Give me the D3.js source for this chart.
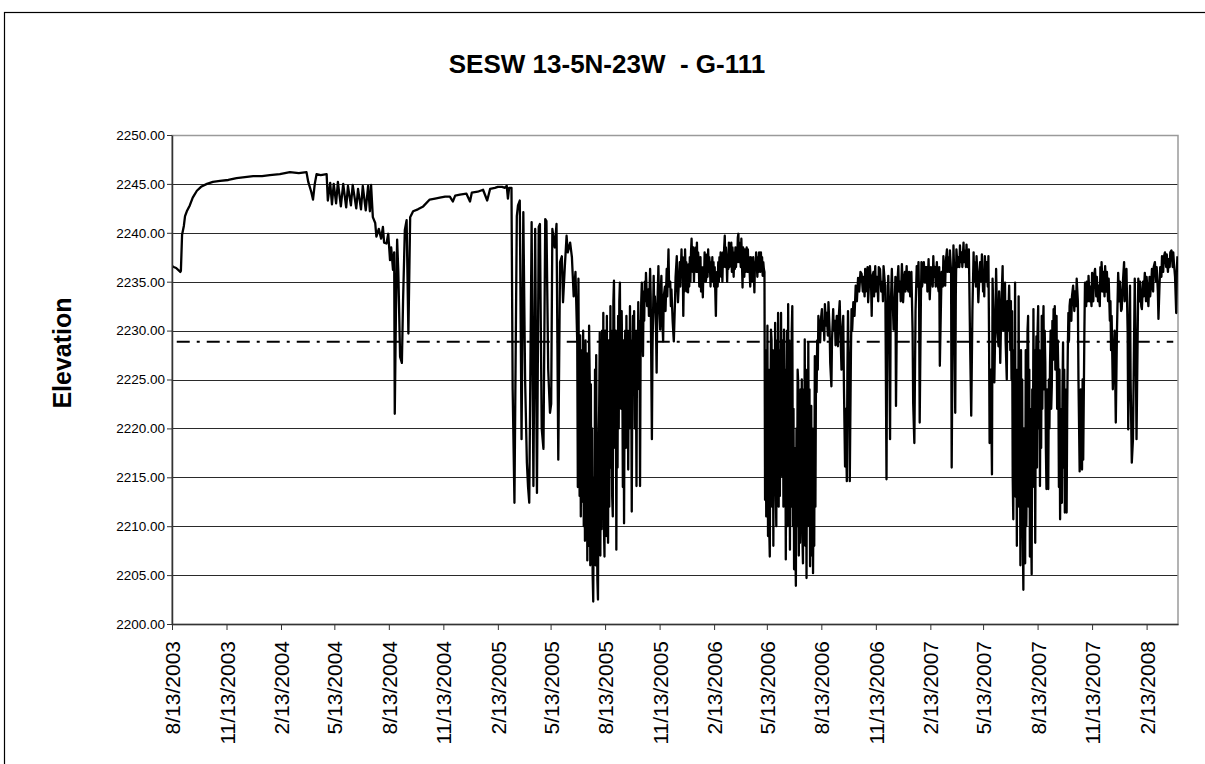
<!DOCTYPE html>
<html>
<head>
<meta charset="utf-8">
<script src="https://cdn.jsdelivr.net/npm/d3@7"></script>
<style>
body{margin:0;background:#fff;}
text{font-family:"Liberation Sans",Arial,sans-serif;fill:#000;}
</style>
</head>
<body>
<div id="main_div"></div>
<script>
let chartTitle="SESW 13-5N-23W  - G-111";
let yTitle="Elevation";
let startDate="8/13/2003";
let spanDays=1698;
let xTickLabels=["8/13/2003","11/13/2003","2/13/2004","5/13/2004","8/13/2004","11/13/2004","2/13/2005","5/13/2005","8/13/2005","11/13/2005","2/13/2006","5/13/2006","8/13/2006","11/13/2006","2/13/2007","5/13/2007","8/13/2007","11/13/2007","2/13/2008"];
let yTickValues=[2200,2205,2210,2215,2220,2225,2230,2235,2240,2245,2250];
let refLevel=2228.85;

// sparse readings: [days since 8/13/2003, elevation]
let readings2003_04=[
[0,2236.6],[3,2236.5],[7,2236.4],[14,2236.0],[15,2236.1],[17,2239.8],[20,2240.7],[22,2241.7],[25,2242.2],[30,2242.8],
[35,2243.6],[42,2244.3],[49,2244.7],[59,2245.0],[69,2245.2],[81,2245.3],[95,2245.4],[109,2245.6],[123,2245.7],[137,2245.8],
[152,2245.8],[165,2245.9],[182,2246.0],[199,2246.2],[214,2246.1],[227,2246.2],[230,2245.2],[235,2244.2],[238,2243.4],[241,2245.0],
[244,2246.0],[251,2245.9],[261,2246.0],[263,2243.3],[267,2245.1],[270,2242.9],[273,2245.0],[277,2243.0],[280,2245.2],[285,2242.7],
[289,2245.0],[294,2242.6],[297,2244.8],[302,2242.8],[305,2244.9],[311,2242.5],[314,2244.5],[319,2242.4],[322,2244.8],[327,2242.3],
[331,2244.8],[334,2242.2],[336,2244.9],[339,2241.6],[343,2241.0],[345,2239.6],[349,2240.4],[353,2239.4],[356,2240.6],[358,2239.0],
[362,2238.9],[365,2239.9],[368,2237.2],[370,2238.5],[373,2236.2],[375,2238.0],[376,2221.5],[378,2232.0],[380,2239.3],[382,2236.0],
[385,2227.3],[388,2226.7],[390,2233.0],[393,2240.3],[396,2241.3],[399,2229.7],[402,2241.6],[407,2242.2],[415,2242.4],[424,2242.7],
[435,2243.4],[444,2243.5],[452,2243.6],[461,2243.7],[469,2243.7],[474,2243.2],[478,2243.8],[486,2243.9],[497,2244.0],[503,2243.2],
[506,2244.1],[516,2244.2],[525,2244.4],[532,2243.3],[537,2244.5]
];
let readings2005=[
[545,2244.6],[550,2244.7],[557,2244.7],[562,2244.6],[565,2244.8],[567,2243.5],[569,2244.6],[573,2244.6],[575,2224.0],[578,2212.4],
[582,2241.7],[584,2242.8],[587,2243.3],[590,2218.9],[593,2242.1],[596,2225.0],[599,2216.5],[601,2214.0],[603,2212.4],[607,2241.1],
[610,2214.1],[613,2240.4],[616,2213.4],[619,2240.6],[621,2240.9],[624,2220.0],[627,2217.9],[630,2241.4],[632,2241.2],[635,2226.0],
[638,2221.6],[640,2222.5],[642,2240.4],[646,2238.5],[649,2240.9],[652,2216.8],[655,2237.0],[658,2237.6],[660,2232.9],[663,2236.5],
[666,2239.7],[668,2238.0],[672,2239.0],[675,2237.5],[678,2233.5],[681,2236.0]
];
// daily readings from day 684
let daily2005Start=684;
let daily2005=[
2228.8,2214.0,2235.3,2222.0,2213.1,2229.5,2211.0,2228.0,2226.7,2212.5,
2230.0,2210.0,2224.0,2208.5,2229.0,2212.0,2227.7,2206.5,2226.0,2208.0,
2230.5,2225.4,2206.0,2224.5,2207.6,2220.0,2205.0,2202.3,2215.0,2208.0,
2226.0,2206.0,2227.5,2212.0,2204.5,2202.5,2218.0,2222.0,2229.8,2207.0,
2228.0,2209.7,2230.0,2214.0,2231.8,2210.0,2206.9,2230.0,2224.0,2209.0,
2231.5,2215.0,2208.3,2229.0,2212.0,2220.0,2232.5,2216.0,2230.0,2213.0,
2211.0,2233.0,2235.1,2224.0,2218.0,2230.0,2207.6,2225.0,2216.0,2231.5,
2220.0,2233.0,2234.9,2224.0,2222.0,2232.0,2226.7,2214.0,2229.0,2210.3,
2225.0,2230.0,2218.0,2231.5,2222.0,2230.0,2215.8,2228.0,2220.0,2232.5,
2224.0,2229.0,2211.5,2226.0,2231.5,2224.0,2232.0,2220.0,2230.0,2226.0,
2214.1,2230.0,2224.0,2232.9,2226.0,2231.0,2214.1,2229.0,2233.0,2234.9,
2230.0,2227.4,2234.0,2231.0,2235.0,2233.0
];
let readingsLate2005=[
[800,2235.9],[802,2232.5],[804,2234.2],[805,2231.5],[807,2236.3],[808,2233.5],[810,2218.9],[811,2228.0],[813,2235.6],[814,2232.0],
[815,2233.5],[817,2230.0],[818,2225.7],[819,2232.0],[821,2236.6],[822,2233.0],[824,2230.1],[825,2234.0],[826,2235.6],[827,2232.0],
[829,2228.9],[830,2233.5],[832,2234.5],[833,2232.0],[835,2236.3],[836,2233.5],[838,2238.3],[839,2234.5],[841,2235.0],[842,2232.5],
[843,2234.2],[845,2231.0],[847,2228.9],[849,2233.0],[850,2235.5],[852,2237.6],[853,2234.5],[854,2232.9],[856,2235.5],[857,2237.0],
[858,2234.5],[859,2236.5]
];
// daily readings from day 860
let daily2006Start=860;
let daily2006=[
2238.3,2235.5,2237.5,2231.5,2236.0,2234.0,2238.3,2235.5,2237.0,2234.0,
2236.5,2233.9,2236.8,2234.5,2237.5,2235.0,2238.0,2239.4,2236.5,2236.0,
2238.5,2235.0,2237.5,2236.3,2238.5,2236.0,2239.0,2236.0,2238.0,2237.0,
2234.5,2235.6,2237.5,2234.0,2236.5,2235.0,2233.4,2236.5,2235.0,2238.0,
2237.0,2235.0,2235.5,2237.8,2235.5,2238.3,2236.0,2237.5,2236.5,2234.5,
2237.0,2235.6,2237.5,2235.0,2237.0,2234.5,2236.5,2234.0,2231.5,2235.5,
2236.0,2234.5,2237.0,2235.0,2237.5,2235.8,2238.0,2235.5,2237.6,2235.0,
2238.0,2236.5,2238.5,2239.7,2236.5,2238.5,2237.5,2235.0,2237.5,2236.3,
2239.0,2236.5,2238.5,2236.8,2239.0,2236.0,2238.5,2237.0,2235.5,2238.0,
2236.3,2238.5,2236.5,2238.5,2237.0,2239.5,2239.9,2237.0,2239.0,2238.0,
2236.5,2239.4,2237.0,2234.4,2238.5,2237.5,2235.5,2238.3,2236.0,2236.8,
2238.5,2236.0,2238.3,2236.0,2237.5,2236.0,2234.5,2237.5,2237.0,2235.0,
2235.8,2237.5,2236.0,2233.9,2237.0,2236.5,2238.0,2237.0,2235.5,2237.5,
2236.0,2238.0,2237.6,2236.0,2238.0,2236.5,2237.5,2235.6,2237.0,2236.3,
2236.0,2212.7,2228.0,2211.0,2213.8,2230.5,2209.0,2226.0,2210.0,2206.9,
2222.0,2230.1,2229.0,2212.0,2228.0,2208.0,2224.0,2215.0,2230.8,2214.0,
2210.0,2229.0,2217.0,2231.8,2212.0,2228.0,2213.1,2226.0,2231.8,2220.0,
2215.1,2229.0,2212.0,2230.1,2218.0,2226.0,2206.6,2222.0,2230.0,2210.0,
2232.7,2214.0,2229.0,2207.6,2226.0,2212.0,2230.0,2232.5,2210.0,2222.0,
2205.6,2218.0,2209.0,2203.9,2220.0,2210.0,2226.0,2224.7,2207.0,2222.0,
2208.3,2224.0,2211.0,2225.0,2209.0,2206.2,2224.0,2212.0,2229.1,2208.0,
2222.0,2204.7,2226.0,2210.0,2228.8,2215.0,2224.0,2205.9,2218.0,2222.3,
2207.0,2220.0,2205.2,2216.0,2208.0,2227.4,2212.0,2226.0,2223.7,2229.0,2226.0
];
let readingsLate2006=[
[1091,2231.5],[1092,2229.5],[1094,2228.8],[1095,2231.0],[1097,2232.2],[1098,2230.0],[1100,2231.0],[1101,2229.0],[1102,2232.7],[1104,2230.5],
[1105,2231.8],[1107,2229.5],[1108,2232.9],[1110,2230.0],[1111,2226.7],[1113,2224.3],[1114,2229.0],[1116,2232.2],[1117,2230.0],[1119,2231.0],
[1120,2228.5],[1122,2231.5],[1124,2228.4],[1125,2231.0],[1127,2233.0],[1128,2230.5],[1130,2226.0],[1131,2229.5],[1133,2231.5],[1134,2225.0],
[1136,2216.1],[1137,2222.0],[1139,2214.6],[1140,2226.0],[1141,2232.0],[1143,2224.0],[1144,2214.6],[1146,2228.0]
];
let readings2007=[
[1147,2232.2],[1148,2230.0],[1150,2232.9],[1152,2231.5],[1154,2234.6],[1156,2233.0],[1158,2235.4],[1160,2234.0],[1162,2236.0],[1164,2235.8],
[1166,2234.0],[1167,2235.5],[1169,2233.5],[1170,2236.3],[1171,2234.0],[1172,2235.0],[1174,2236.5],[1175,2232.9],[1177,2235.5],[1178,2236.6],
[1180,2234.5],[1181,2231.5],[1182,2235.5],[1184,2236.0],[1185,2233.5],[1187,2236.6],[1188,2234.0],[1190,2235.5],[1192,2233.0],[1193,2236.5],
[1195,2236.3],[1197,2234.0],[1199,2235.0],[1200,2233.0],[1201,2236.6],[1203,2235.0],[1204,2234.6],[1206,2214.8],[1207,2230.0],[1209,2235.6],
[1210,2233.0],[1212,2218.9],[1213,2232.0],[1215,2236.3],[1216,2234.0],[1218,2230.1],[1220,2233.0],[1221,2235.5],[1222,2222.3],[1224,2234.5],
[1226,2236.6],[1227,2234.0],[1229,2235.0],[1230,2233.0],[1232,2236.8],[1233,2235.0],[1234,2232.9],[1236,2235.5],[1237,2236.0],[1238,2234.0],
[1240,2236.6],[1241,2234.5],[1243,2234.0],[1244,2236.0],[1246,2233.5],[1247,2235.0],[1248,2236.0],[1250,2230.0],[1251,2222.6],[1253,2218.5],
[1255,2232.0],[1257,2236.6],[1258,2234.5],[1260,2237.0],[1261,2233.0],[1262,2220.6],[1264,2233.0],[1265,2237.0],[1266,2234.5],[1268,2235.5],
[1269,2237.0],[1271,2234.9],[1272,2236.5],[1274,2236.5],[1275,2234.0],[1277,2237.3],[1278,2235.0],[1279,2233.2],[1281,2236.5],[1282,2236.0],
[1284,2234.5],[1285,2237.6],[1286,2235.5],[1288,2236.5],[1289,2234.5],[1291,2237.0],[1292,2235.0],[1294,2234.0],[1295,2236.5],[1296,2226.4],
[1298,2233.0],[1299,2236.0],[1301,2234.5],[1302,2237.6],[1303,2236.0],[1305,2234.6],[1306,2237.0],[1308,2238.3],[1309,2236.0],[1310,2237.5],
[1312,2236.0],[1313,2238.2],[1315,2236.0],[1316,2216.0],[1318,2234.0],[1319,2238.7],[1320,2236.5],[1322,2221.6],[1323,2234.0],[1324,2238.3],
[1326,2236.5],[1327,2237.5],[1329,2236.5],[1330,2238.7],[1331,2237.0],[1333,2238.0],[1334,2236.5],[1336,2239.0],[1337,2237.0],[1339,2238.2],
[1340,2236.5],[1341,2238.8],[1343,2236.5],[1344,2237.8],[1345,2238.3],[1347,2229.1],[1349,2221.3],[1351,2232.0],[1353,2238.0],[1354,2235.0],
[1355,2237.0],[1357,2234.5],[1358,2237.6],[1360,2235.0],[1361,2232.9],[1363,2236.0],[1364,2237.0],[1366,2235.0],[1367,2237.8],[1369,2234.0],
[1370,2236.0],[1371,2233.5],[1372,2237.6],[1374,2235.0],[1375,2237.0],[1377,2234.5],[1378,2237.6],[1379,2230.0],[1380,2218.5],[1382,2226.0],
[1384,2215.3],[1385,2235.3],[1387,2230.0],[1388,2224.7],[1390,2232.0],[1391,2236.3],[1393,2230.0],[1395,2228.4],[1396,2234.0],[1398,2226.7],
[1400,2233.0],[1402,2236.6],[1403,2230.0],[1404,2232.0],[1406,2234.9],[1407,2229.0],[1409,2225.0],[1410,2233.0],[1411,2230.0],[1413,2234.6],
[1415,2228.0],[1416,2233.0]
];
// daily readings from day 1417
let daily2007Start=1417;
let daily2007=[
2225.0,2232.0,2215.0,2210.7,2228.0,2218.0,2234.9,2213.0,2224.0,2208.0,
2226.0,2212.0,2233.5,2216.0,2222.6,2206.0,2228.0,2213.1,2225.0,2209.0,
2203.5,2220.0,2208.0,2206.2,2228.0,2210.0,2216.5,2230.0,2231.5,2212.0,
2226.0,2206.9,2222.0,2210.0,2205.1,2224.0,2214.0,2232.2,2218.0,2228.0,
2208.3,2224.0,2229.4,2216.0,2230.0,2232.5,2220.0,2228.0,2214.1,2226.0,
2218.0,2231.5,2222.0,2230.0,2232.5,2224.0,2230.0,2226.7,2218.0,2213.8,
2224.0,2216.0,2213.8,2225.0,2220.0,2226.7,2230.0,2222.0,2224.3,2231.0,
2227.0,2232.2,2228.0,2232.5,2226.0,2230.0,2231.5,2222.0,2229.0,2225.7,
2214.0,2226.0,2210.7,2222.0,2216.0,2212.4,2224.0,2228.8,2216.0,2226.0,
2211.4,2224.0,2218.0,2211.4,2222.0,2228.0,2231.8,2229.0,2232.5,2233.2
];
let readings2008=[
[1518,2231.0],[1519,2233.5],[1521,2234.6],[1523,2232.0],[1524,2234.0],[1526,2232.5],[1527,2235.3],[1529,2233.0],[1530,2225.0],[1532,2215.6],
[1534,2224.0],[1536,2215.8],[1537,2225.0],[1538,2216.8],[1540,2230.0],[1541,2234.9],[1543,2232.5],[1544,2235.0],[1546,2233.0],[1547,2235.6],
[1549,2233.0],[1550,2234.5],[1552,2232.5],[1553,2235.9],[1555,2233.0],[1556,2235.5],[1558,2236.3],[1560,2233.5],[1561,2235.5],[1563,2233.0],
[1564,2234.6],[1566,2232.5],[1567,2236.5],[1568,2234.0],[1569,2237.0],[1571,2234.0],[1572,2236.0],[1574,2233.5],[1575,2236.6],[1577,2234.0],
[1578,2236.0],[1580,2233.0],[1581,2235.3],[1583,2231.0],[1584,2233.0],[1585,2228.0],[1586,2231.5],[1588,2224.0],[1589,2226.4],[1591,2230.0],
[1593,2220.6],[1595,2230.0],[1597,2235.9],[1599,2233.0],[1600,2235.0],[1602,2232.0],[1603,2232.2],[1605,2235.0],[1607,2237.0],[1608,2233.0],
[1610,2235.5],[1611,2236.3],[1613,2230.0],[1614,2219.9],[1616,2230.0],[1617,2234.6],[1618,2225.0],[1620,2216.5],[1622,2218.9],[1624,2230.0],
[1625,2235.3],[1627,2226.0],[1628,2218.9],[1630,2230.0],[1631,2235.3],[1633,2233.0],[1634,2235.0],[1636,2232.5],[1637,2232.2],[1639,2235.0],
[1640,2233.5],[1642,2235.9],[1644,2233.0],[1645,2235.5],[1647,2233.5],[1648,2232.5],[1650,2235.5],[1651,2233.5],[1653,2235.0],[1654,2236.3],
[1656,2234.0],[1657,2236.5],[1659,2237.0],[1661,2235.0],[1662,2236.5],[1664,2234.0],[1665,2231.2],[1667,2235.0],[1668,2236.5],[1670,2235.5],
[1671,2237.6],[1673,2236.0],[1674,2237.5],[1676,2238.0],[1678,2236.5],[1679,2237.8],[1681,2236.0],[1682,2237.3],[1684,2236.5],[1685,2238.0],
[1687,2238.2],[1689,2236.5],[1690,2238.0],[1691,2237.0],[1693,2235.5],[1695,2231.8],[1696,2236.0],[1697,2237.6]
];

let size=[1205,764];
let plot={left:172,right:1178,top:135,bottom:624};
let parseDate=d3.timeParse("%m/%d/%Y");
let t0=parseDate(startDate);
let xScale,yScale;

render();

function expandDaily(start,values){
    return values.map(function(v,i){return [start+i,v];});
}

function render(){
    let rows=[].concat(
        readings2003_04,
        readings2005,
        expandDaily(daily2005Start,daily2005),
        readingsLate2005,
        expandDaily(daily2006Start,daily2006),
        readingsLate2006,
        readings2007,
        expandDaily(daily2007Start,daily2007),
        readings2008
    ).sort(function(a,b){return a[0]-b[0];});
    let data=rows.map(function(d){return {date:d3.timeDay.offset(t0,d[0]),value:d[1]};});

    xScale=d3.scaleTime()
        .domain([t0,d3.timeDay.offset(t0,spanDays)])
        .range([plot.left,plot.right]);
    yScale=d3.scaleLinear()
        .domain([2200,2250])
        .range([plot.bottom,plot.top]);

    let svg=d3.select("#main_div").append("svg")
        .attr("width",size[0]).attr("height",size[1])
        .attr("id","main_svg");

    /**outer chart frame**/
    svg.append("rect")
        .attr("x",4.5).attr("y",12.5)
        .attr("width",size[0]+20).attr("height",size[1]+20)
        .attr("fill","none").attr("stroke","#000").attr("stroke-width",1.2);

    /**gridlines**/
    svg.append("g").selectAll("line")
        .data(yTickValues.filter(function(v){return v>2200&&v<2250;}))
        .enter().append("line")
        .attr("x1",plot.left).attr("x2",plot.right)
        .attr("y1",function(d){return Math.round(yScale(d))+0.5;})
        .attr("y2",function(d){return Math.round(yScale(d))+0.5;})
        .attr("stroke","#2a2a2a").attr("stroke-width",1.2);

    /**plot area border**/
    svg.append("rect")
        .attr("x",plot.left).attr("y",plot.top+0.5)
        .attr("width",plot.right-plot.left).attr("height",plot.bottom-plot.top)
        .attr("fill","none").attr("stroke","#9a9a9a").attr("stroke-width",1.5);

    /**reference level (dash-dot)**/
    svg.append("line")
        .attr("x1",xScale(d3.timeDay.offset(t0,8))).attr("x2",xScale(d3.timeDay.offset(t0,1690)))
        .attr("y1",yScale(refLevel)).attr("y2",yScale(refLevel))
        .attr("stroke","#000").attr("stroke-width",2)
        .attr("stroke-dasharray","13,7,3,7");

    /**series**/
    svg.append("clipPath").attr("id","clip")
        .append("rect").attr("x",plot.left).attr("y",plot.top-2)
        .attr("width",plot.right-plot.left).attr("height",plot.bottom-plot.top+2);
    let line=d3.line()
        .x(function(d){return xScale(d.date);})
        .y(function(d){return yScale(d.value);});
    svg.append("path")
        .datum(data)
        .attr("clip-path","url(#clip)")
        .attr("d",line)
        .attr("fill","none").attr("stroke","#000")
        .attr("stroke-width",2.3).attr("stroke-linejoin","round");

    /**axes**/
    let yAxis=d3.axisLeft(yScale)
        .tickValues(yTickValues)
        .tickFormat(d3.format(".2f"))
        .tickSize(5).tickSizeOuter(0).tickPadding(2);
    let yG=svg.append("g").attr("transform","translate("+plot.left+",0)").call(yAxis);
    yG.select(".domain").attr("stroke","#333").attr("stroke-width",1.5);
    yG.selectAll(".tick line").attr("stroke","#333");
    yG.selectAll("text").style("font-size","13.5px").attr("fill","#000");

    let tickDates=xTickLabels.map(function(s){return parseDate(s);});
    let xAxis=d3.axisBottom(xScale)
        .tickValues(tickDates)
        .tickFormat(function(d,i){return xTickLabels[i];})
        .tickSize(6).tickSizeOuter(0);
    let xG=svg.append("g").attr("transform","translate(0,"+plot.bottom+")").call(xAxis);
    xG.select(".domain").attr("stroke","#333").attr("stroke-width",1.5);
    xG.selectAll(".tick line").attr("stroke","#333");
    xG.selectAll("text")
        .style("font-size","21px")
        .attr("fill","#000")
        .attr("transform","rotate(-90)")
        .attr("text-anchor","end")
        .attr("x",-17).attr("y",0).attr("dy","0.36em");

    /**titles**/
    svg.append("text")
        .text(chartTitle)
        .attr("x",607).attr("y",73)
        .attr("text-anchor","middle")
        .style("white-space","pre")
        .style("font-size","26px").style("font-weight","bold");

    svg.append("text")
        .text(yTitle)
        .attr("transform","translate(71,353) rotate(-90)")
        .attr("text-anchor","middle")
        .style("font-size","25px").style("font-weight","bold");
}
</script>
</body>
</html>
